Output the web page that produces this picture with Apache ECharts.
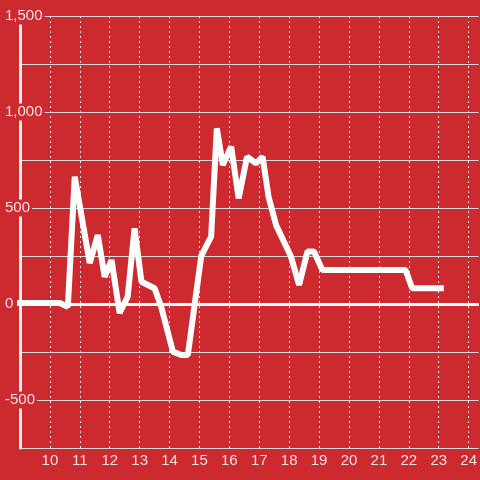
<!DOCTYPE html>
<html>
<head>
<meta charset="utf-8">
<script src="https://cdn.jsdelivr.net/npm/echarts@6/dist/echarts.min.js"></script>
<style>html,body{margin:0;padding:0;background:#cc2a2f;}#c{width:480px;height:480px;}</style>
</head>
<body>
<div id="c"></div>
<script>
const xValues = [8.9, 10.33, 10.6, 10.83, 11.33, 11.6, 11.83, 12.06, 12.33, 12.6, 12.83, 13.06, 13.5, 13.72, 14.11, 14.39, 14.61, 15.06, 15.39, 15.58, 15.78, 16.06, 16.31, 16.59, 16.89, 17.11, 17.31, 17.56, 18.06, 18.33, 18.61, 18.83, 19.11, 21.89, 22.11, 23.17];
const yValues = [5, 5, -15, 663, 213, 359, 142, 229, -47, 38, 394, 116, 82, -14, -248, -266, -266, 251, 351, 915, 724, 820, 550, 767, 733, 767, 559, 411, 247, 99, 273, 273, 177, 177, 82, 82];
const xLabelValues = [10, 11, 12, 13, 14, 15, 16, 17, 18, 19, 20, 21, 22, 23, 24];
const yLabelValues = [-500, 0, 500, 1000, 1500];

const chart = echarts.init(document.getElementById('c'));
const textColor = 'rgba(255,255,255,0.85)';
chart.setOption({
  backgroundColor: '#cc2a2f',
  animation: false,
  grid: {left: 20, right: 0, top: 16, bottom: 32},
  xAxis: {
    type: 'value', min: 9, max: 9 + 46 / 3,
    axisLine: {show: true, lineStyle: {color: '#d9d9d9', width: 1}},
    axisTick: {show: false, customValues: xLabelValues},
    splitLine: {show: true, lineStyle: {color: '#e8e8e8', type: [2, 3], width: 1}},
    axisLabel: {
      color: textColor, fontSize: 15, fontFamily: 'Liberation Sans', margin: 5,
      customValues: xLabelValues,
      formatter: v => String(v)
    }
  },
  yAxis: {
    type: 'value', min: -750, max: 1500, interval: 250,
    axisLine: {show: true, lineStyle: {color: '#f2f2f2', width: 3}},
    axisTick: {show: false},
    splitLine: {show: true, lineStyle: {color: '#d9d9d9', width: 1}},
    axisLabel: {
      color: textColor, fontSize: 15, fontFamily: 'Liberation Sans',
      align: 'left', margin: 15, backgroundColor: '#cc2a2f', padding: [1, 2, 1, 0],
      formatter: v => yLabelValues.includes(v) ? v.toLocaleString('en-US') : ''
    }
  },
  series: [{
    type: 'line',
    data: xValues.map((x, i) => [x, yValues[i]]),
    showSymbol: false,
    clip: false,
    lineStyle: {color: '#ffffff', width: 6},
    z: 3,
    markLine: {
      silent: true, symbol: 'none', label: {show: false},
      lineStyle: {color: '#ffffff', width: 3, type: 'solid'},
      data: [{yAxis: 0}]
    }
  }]
});
</script>
</body>
</html>
